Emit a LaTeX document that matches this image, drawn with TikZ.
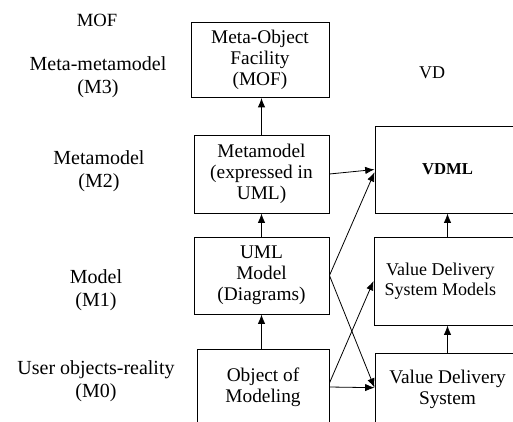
\documentclass[tikz,border=0pt]{standalone}
\usepackage{fontspec}
\setmainfont{Liberation Serif}
\usetikzlibrary{arrows.meta}
\begin{document}
\begin{tikzpicture}[x=0.75pt,y=-0.75pt,
  box/.style={draw,line width=0.7pt,inner sep=0pt,align=center,font=\fontsize{14.5}{15.8}\selectfont},
  lbl/.style={align=center,inner sep=0pt,font=\fontsize{15}{17.3}\selectfont},
  arr/.style={line width=0.6pt,-{Latex[length=7pt,width=5.5pt]}}]
\clip (0,0) rectangle (513,421);
\fill[white] (0,0) rectangle (513,421);
% level labels
\node[lbl,font=\fontsize{14}{16}\selectfont] (mofl) at (97,20) {MOF};
\node[lbl] (m3) at (98,77) {Meta-metamodel\\(M3)};
\node[lbl] (m2) at (99,171) {Metamodel\\(M2)};
\node[lbl] (m1) at (96,290) {Model\\(M1)};
\node[lbl] (m0) at (96,381) {User objects-reality\\(M0)};
\node[lbl,font=\fontsize{13.5}{15}\selectfont] (vdl) at (432,73) {VD};
% left column
\node[box,minimum width=103.5pt,minimum height=56.25pt] (mof) at (260,60) {Meta-Object\\Facility\\(MOF)};
\path[use as bounding box] (0,0) rectangle (513,421);
\node[box,minimum width=101.25pt,minimum height=58.5pt] (mm) at (261.5,174) {Metamodel\\(expressed in\\UML)};
\node[box,minimum width=101.25pt,minimum height=57.75pt] (uml) at (261.5,275.5) {UML\\Model\\(Diagrams)};
\node[box,minimum width=99pt,minimum height=57pt] (obj) at (263,387) {Object of\\Modeling};
% right column
\node[box,minimum width=108.75pt,minimum height=65.25pt,font=\bfseries\fontsize{12.5}{14}\selectfont] (vdml) at (447.5,169.5) {VDML};
\node[box,minimum width=109.5pt,minimum height=66pt,
  label={[xshift=-5pt,align=center,font=\fontsize{13.5}{15}\selectfont]center:Value Delivery\\System Models}] (vdsm) at (447,281) {};
\node[box,minimum width=108.75pt,minimum height=54pt] (vds) at (447.5,389) {Value Delivery\\System};
% arrows
\draw[arr] (mm.north) -- (mm.north |- mof.south);
\draw[arr] (uml.north) -- (mm.south);
\draw[arr] (obj.north -| uml.north) -- (uml.south);
\draw[arr] (vdsm.north -| vdml.south) -- (vdml.south);
\draw[arr] (vds.north -| vdml.south) -- (vdsm.south -| vdml.south);
\draw[arr] (mm.east) -- (vdml.west);
\draw[arr] (uml.east) -- ([yshift=-2pt]vdml.west);
\draw[arr] (uml.east) -- ([yshift=1pt]vds.west);
\draw[arr] ([yshift=3pt]obj.east) -- (vdsm.west);
\draw[arr] (obj.east) -- ([yshift=1pt]vds.west);
\end{tikzpicture}
\end{document}
